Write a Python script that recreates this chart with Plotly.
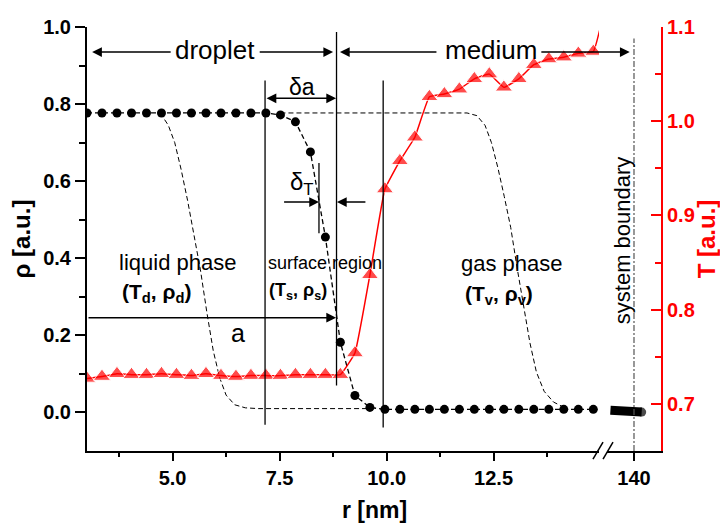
import plotly.graph_objects as go

FONT = "Liberation Sans, Arial, sans-serif"

# ---- data ----
r_nm = [3.00, 3.35, 3.70, 4.04, 4.39, 4.74, 5.09, 5.44, 5.78, 6.13, 6.48, 6.83,
        7.18, 7.52, 7.87, 8.22, 8.57, 8.92, 9.26, 9.61, 9.96, 10.31, 10.66, 11.00,
        11.35, 11.70, 12.05, 12.40, 12.74, 13.09, 13.44, 13.79, 14.14, 14.48, 14.83]
rho = [0.777, 0.777, 0.777, 0.777, 0.777, 0.777, 0.777, 0.777, 0.777, 0.777, 0.777, 0.777,
       0.777, 0.772, 0.754, 0.676, 0.455, 0.182, 0.044, 0.013, 0.008, 0.008, 0.008, 0.008,
       0.008, 0.008, 0.008, 0.008, 0.008, 0.008, 0.008, 0.008, 0.008, 0.008, 0.008]

T_r = r_nm + [15.17]
T_val = [0.727, 0.729, 0.732, 0.731, 0.731, 0.732, 0.731, 0.730, 0.732, 0.730, 0.729, 0.730,
         0.730, 0.730, 0.731, 0.731, 0.731, 0.731, 0.754, 0.837, 0.928, 0.958, 0.983, 1.026,
         1.029, 1.034, 1.045, 1.050, 1.036, 1.045, 1.060, 1.066, 1.068, 1.072, 1.074, 1.135]
T_marker_size = [15] * 35 + [0]

# far-field points near the system boundary (broken axis part)
r_far = [139.45, 139.60, 139.75, 139.90, 140.05, 140.12, 140.18]
rho_far = [0.006, 0.006, 0.006, 0.006, 0.006, 0.006, 0.001]
far_marker_size = [0, 0, 0, 0, 0, 0, 9]

# schematic (dashed) profiles
left_prof_r = [4.71, 4.90, 5.05, 5.20, 5.35, 5.50, 5.65, 5.80, 5.95, 6.10, 6.25, 6.45, 6.70, 7.00, 9.60]
left_prof_rho = [0.777, 0.745, 0.700, 0.630, 0.550, 0.460, 0.370, 0.260, 0.160, 0.090, 0.045, 0.020, 0.012, 0.010, 0.010]
right_prof_r = [7.52, 11.88, 12.11, 12.30, 12.45, 12.60, 12.75, 12.90, 13.05, 13.20, 13.35, 13.50, 13.68, 13.90, 14.15]
right_prof_rho = [0.777, 0.777, 0.770, 0.745, 0.700, 0.635, 0.560, 0.480, 0.375, 0.275, 0.180, 0.105, 0.055, 0.027, 0.013]

x_ticks = [5.0, 7.5, 10.0, 12.5]
x_ticktext = ["5.0", "7.5", "10.0", "12.5"]
x_minor = [3.75, 6.25, 8.75, 11.25, 13.75]
rho_ticks = [0.0, 0.2, 0.4, 0.6, 0.8, 1.0]
rho_ticktext = ["0.0", "0.2", "0.4", "0.6", "0.8", "1.0"]
rho_minor = [0.1, 0.3, 0.5, 0.7, 0.9]
T_ticks = [0.7, 0.8, 0.9, 1.0, 1.1]
T_ticktext = ["0.7", "0.8", "0.9", "1.0", "1.1"]
T_minor = [0.75, 0.85, 0.95, 1.05]

# sketch vertical lines: (r, rho_bottom, rho_top)
v_lines = [(7.16, -0.032, 0.861), (8.83, 0.070, 0.987), (9.92, -0.039, 0.861), (8.42, 0.465, 0.647)]
boundary_r = 140.0

fig = go.Figure()

fig.add_trace(go.Scatter(x=left_prof_r, y=left_prof_rho, mode="lines",
                         line=dict(color="black", width=1, dash="5px,3px"),
                         xaxis="x", yaxis="y", hoverinfo="skip"))
fig.add_trace(go.Scatter(x=right_prof_r, y=right_prof_rho, mode="lines",
                         line=dict(color="black", width=1, dash="5px,3px"),
                         xaxis="x", yaxis="y", hoverinfo="skip"))

fig.add_trace(go.Scatter(x=r_nm, y=rho, mode="lines+markers",
                         line=dict(color="black", width=1.3, dash="5px,3px"),
                         marker=dict(symbol="circle", size=9, color="black"),
                         xaxis="x", yaxis="y"))

fig.add_trace(go.Scatter(x=r_far, y=rho_far, mode="lines+markers",
                         line=dict(color="black", width=9),
                         marker=dict(symbol="circle", size=far_marker_size, color="black",
                                     line=dict(width=0)),
                         xaxis="x2", yaxis="y"))

fig.add_trace(go.Scatter(x=T_r, y=T_val, mode="lines+markers",
                         line=dict(color="#ff0000", width=1.5, shape="spline", smoothing=0.3),
                         marker=dict(symbol="triangle-up", size=T_marker_size, color="#ff0000"),
                         xaxis="x", yaxis="y2"))

shapes = []
for (xv, y0, y1) in v_lines:
    shapes.append(dict(type="line", xref="x", yref="y", x0=xv, x1=xv, y0=y0, y1=y1,
                       line=dict(color="black", width=1.3)))
shapes.append(dict(type="line", xref="x2", yref="y", x0=boundary_r, x1=boundary_r, y0=-0.1, y1=0.97,
                   line=dict(color="#555555", width=1.2, dash="6px,2px,2px,2px")))
# axis break marks
shapes.append(dict(type="line", xref="paper", yref="paper", x0=0.8815, y0=-0.019, x1=0.899, y1=0.021,
                   line=dict(color="black", width=1.5)))
shapes.append(dict(type="line", xref="paper", yref="paper", x0=0.899, y0=-0.019, x1=0.9164, y1=0.021,
                   line=dict(color="black", width=1.5)))


def arrow(x_head, y_head, x_tail, y_tail, xref="x", both=False):
    return dict(x=x_head, y=y_head, ax=x_tail, ay=y_tail, xref=xref, yref="y",
                axref=xref, ayref="y", text="", showarrow=True, arrowhead=2,
                arrowsize=1.3, arrowwidth=1.5, arrowcolor="black", standoff=0, startstandoff=0,
                arrowside="end+start" if both else "end", startarrowhead=2, startarrowsize=1.3)


def label(x, y, text, size, bold=False, xref="x", yref="y", angle=0, color="black"):
    return dict(x=x, y=y, xref=xref, yref=yref, text=text, showarrow=False,
                font=dict(family=FONT, size=size, color=color, weight="bold" if bold else "normal"),
                xanchor="center", yanchor="middle", textangle=angle)


ann = [
    arrow(3.12, 0.935, 4.99, 0.935),
    arrow(8.75, 0.935, 7.0, 0.935),
    label(5.99, 0.94, "droplet", 26),
    arrow(8.91, 0.935, 11.2, 0.935),
    arrow(139.9, 0.935, 137.8, 0.935, xref="x2"),
    label(12.44, 0.94, "medium", 26),
    arrow(8.82, 0.815, 7.16, 0.815, both=True),
    label(8.02, 0.845, "δa", 23),
    label(8.02, 0.595, "δ<sub>T</sub>", 24),
    arrow(8.42, 0.546, 7.57, 0.546),
    arrow(8.84, 0.546, 9.54, 0.546),
    arrow(8.82, 0.246, 3.0, 0.246),
    label(6.53, 0.205, "a", 25),
    label(5.11, 0.39, "liquid phase", 22),
    label(4.63, 0.31, "(T<sub>d</sub>, ρ<sub>d</sub>)", 21, bold=True),
    label(8.57, 0.387, "surface region", 18),
    label(7.93, 0.315, "(T<sub>s</sub>, ρ<sub>s</sub>)", 18, bold=True),
    label(12.94, 0.387, "gas phase", 22),
    label(12.63, 0.304, "(T<sub>v</sub>, ρ<sub>v</sub>)", 21, bold=True),
    label(139.72, 0.447, "system boundary", 22, xref="x2", angle=-90),
    label(0.5, -0.138, "r [nm]", 23, bold=True, xref="paper", yref="paper"),
]

tickfont = dict(family=FONT, size=20, color="black", weight="bold")
redfont = dict(family=FONT, size=20, color="#ff0000", weight="bold")

fig.update_layout(
    width=720, height=523,
    margin=dict(l=87, r=59, t=27, b=72, autoexpand=False),
    plot_bgcolor="white", paper_bgcolor="white",
    showlegend=False,
    shapes=shapes, annotations=ann,
    xaxis=dict(domain=[0, 0.892], range=[3, 14.963], anchor="y", automargin=False,
               tickvals=x_ticks, ticktext=x_ticktext, tickfont=tickfont,
               ticks="outside", ticklen=8, tickwidth=2, tickcolor="black",
               minor=dict(tickvals=x_minor, ticks="outside", ticklen=4, tickwidth=2, tickcolor="black"),
               showline=True, linecolor="black", linewidth=2,
               showgrid=False, zeroline=False),
    xaxis2=dict(domain=[0.9059, 1], range=[139.369, 140.631], anchor="y", automargin=False,
                tickvals=[140], ticktext=["140"], tickfont=tickfont,
                ticks="outside", ticklen=8, tickwidth=2, tickcolor="black",
                showline=True, linecolor="black", linewidth=2,
                showgrid=False, zeroline=False),
    yaxis=dict(range=[-0.1, 1.0], anchor="x", automargin=False,
               tickvals=rho_ticks, ticktext=rho_ticktext, tickfont=tickfont,
               ticks="outside", ticklen=10, tickwidth=2, tickcolor="black",
               minor=dict(tickvals=rho_minor, ticks="outside", ticklen=6, tickwidth=2, tickcolor="black"),
               showline=True, linecolor="black", linewidth=2,
               showgrid=False, zeroline=False,
               title=dict(text="ρ [a.u.]", standoff=6,
                          font=dict(family=FONT, size=24, color="black", weight="bold"))),
    yaxis2=dict(range=[0.65, 1.1], overlaying="y", side="right", anchor="x2", automargin=False,
                tickvals=T_ticks, ticktext=T_ticktext, tickfont=redfont,
                ticks="inside", ticklen=10, tickwidth=2, tickcolor="#ff0000",
                minor=dict(tickvals=T_minor, ticks="inside", ticklen=6, tickwidth=2, tickcolor="#ff0000"),
                showline=True, linecolor="#ff0000", linewidth=2,
                showgrid=False, zeroline=False,
                title=dict(text="T [a.u.]", standoff=6,
                           font=dict(family=FONT, size=24, color="#ff0000", weight="bold"))),
)

fig.write_html("out.html")
